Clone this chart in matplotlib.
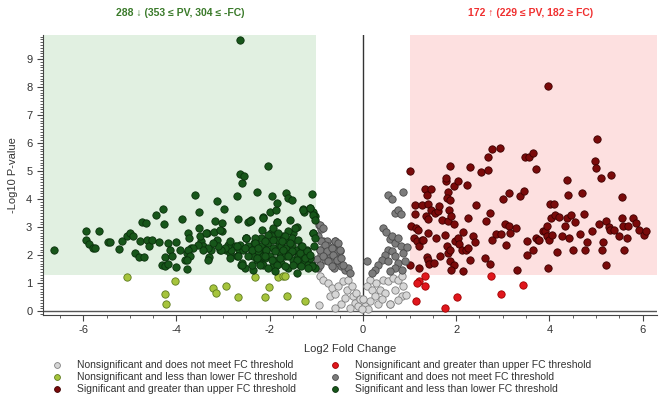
import numpy as np
import matplotlib.pyplot as plt
from matplotlib.lines import Line2D
from matplotlib.ticker import MultipleLocator

plt.rcParams['font.family'] = ['Liberation Sans', 'DejaVu Sans']
plt.rcParams['axes.unicode_minus'] = False

# significativo e abaixo do limiar inferior de FC (verde escuro)
sig_down_x = [-6.63, -5.94, -5.94, -5.87, -5.8, -5.75, -5.66, -5.47, -5.42, -5.23,
              -5.16, -5.06, -5.0, -4.94, -4.89, -4.8, -4.75, -4.66, -4.78, -4.69,
              -4.64, -4.6, -4.53, -4.44, -4.37, -4.28, -4.26, -4.32, -4.25, -4.24,
              -4.19, -4.18, -4.14, -4.09, -4.01, -4.0, -3.89, -3.93, -3.82, -3.77,
              -3.77, -3.75, -3.73, -3.68, -3.61, -3.51, -3.51, -3.48, -3.43, -3.35,
              -3.3, -3.27, -3.2, -3.18, -3.14, -3.13, -3.07, -3.03, -3.02, -2.98,
              -2.93, -2.85, -2.8, -2.7, -2.69, -2.65, -2.64, -2.59, -2.55, -2.63,
              -2.62, -2.5, -2.46, -2.41, -2.39, -2.36, -2.33, -2.28, -2.26, -2.22,
              -2.19, -2.14, -2.14, -2.1, -2.03, -1.99, -1.98, -1.96, -1.92, -1.87,
              -1.85, -1.85, -1.8, -1.77, -1.71, -1.64, -1.6, -1.53, -1.57, -1.51,
              -1.48, -1.42, -1.39, -1.32, -1.28, -1.26, -1.1, -1.14, -1.08, -1.03,
              -1.07, -1.05, -1.1, -1.03,
              -2.5, -2.46, -2.39, -2.35, -2.28, -2.25, -2.18, -2.14, -2.07, -2.03,
              -2.0, -1.93, -1.89, -1.82, -1.78, -1.75, -1.67, -1.64, -1.57, -1.53,
              -1.5, -1.42, -1.39, -1.35, -1.28, -1.25, -1.21, -1.17, -1.14, -1.1,
              -2.14, -2.39, -2.28, -1.93, -1.75, -1.6, -1.67, -1.53, -1.96, -2.18,
              -2.32, -2.57, -2.64, -2.75, -2.82, -2.89, -2.96, -3.04, -3.1, -3.21,
              -3.32, -3.43, -3.54, -3.64, -3.75, -3.71, -3.78, -3.5, -3.36, -3.07,
              -2.86, -2.71, -2.86, -3.32, -2.53, -2.6,
              -2.42, -2.14, -1.85, -1.46, -1.6, -2.17, -2.03, -1.82, -1.67, -2.5,
              -2.32, -2.1, -1.92, -1.74, -1.57, -1.39, -1.32, -2.53, -2.39, -2.25,
              -2.07, -1.89, -1.71, -1.53, -1.35, -1.21, -2.46, -2.28, -2.1, -1.96,
              -1.78, -1.6, -1.42, -1.25, -1.14, -2.6, -2.21, -2.03, -1.85, -1.67,
              -1.5, -1.32, -1.89, -1.42, -1.17, -2.71, -2.68,
              -1.28, -1.14, -1.07, -1.03, -1.07, -1.03, -1.31]
sig_down_y = [2.2, 2.87, 2.55, 2.41, 2.26, 2.26, 2.87, 2.46, 2.46, 2.22,
              2.52, 2.7, 2.79, 2.67, 2.08, 1.94, 3.18, 3.15, 2.49, 1.94,
              2.55, 2.32, 2.53, 3.42, 2.46, 3.66, 3.12, 1.63, 1.94, 1.6,
              1.7, 2.43, 2.2, 1.96, 1.58, 2.46, 3.29, 2.2, 1.84, 2.08,
              1.52, 2.79, 2.61, 2.26, 4.13, 3.54, 2.97, 2.49, 2.32, 2.79,
              1.94, 2.2, 2.83, 3.22, 3.94, 2.55, 2.2, 2.85, 3.15, 3.66,
              2.2, 2.08, 2.32, 4.1, 3.3, 2.2, 4.9, 4.57, 4.84, 9.66,
              1.63, 2.61, 3.18, 3.27, 2.08, 1.46, 2.43, 4.24, 2.08, 2.2,
              1.8, 3.36, 2.32, 1.9, 5.17, 3.54, 2.79, 4.1, 2.97, 3.62,
              3.86, 3.18, 2.38, 2.08, 2.67, 4.22, 4.04, 3.98, 3.27, 2.79,
              2.2, 3.0, 1.96, 1.84, 3.66, 3.53, 4.18, 3.68, 3.53, 3.38,
              2.79, 2.32, 1.66, 1.54,
              2.61, 2.31, 2.2, 1.96, 2.37, 2.14, 2.31, 1.96, 2.2, 2.43,
              1.96, 2.26, 1.84, 2.55, 2.08, 2.31, 1.96, 2.26, 2.08, 2.37,
              1.84, 2.2, 1.96, 1.66, 2.08, 1.78, 2.2, 1.66, 1.9, 1.6,
              1.66, 1.66, 1.84, 1.6, 1.72, 1.54, 2.55, 2.61, 2.67, 2.61,
              2.61, 2.2, 2.37, 2.31, 2.2, 2.37, 2.26, 2.2, 2.31, 2.43,
              2.26, 2.2, 2.37, 2.26, 2.2, 1.96, 1.84, 2.67, 2.79, 2.91,
              2.49, 1.96, 1.9, 1.84, 1.54, 1.72,
              3.23, 3.33, 3.18, 2.97, 2.85, 2.91, 2.73, 2.79, 2.67, 2.61,
              2.43, 2.49, 2.55, 2.49, 2.43, 2.55, 2.32, 2.26, 2.2, 2.26,
              2.2, 2.14, 2.2, 2.14, 2.08, 2.14, 1.96, 1.9, 1.96, 1.84,
              1.9, 1.96, 1.84, 1.9, 2.02, 1.66, 1.66, 1.54, 1.66, 1.6,
              1.66, 1.6, 1.42, 1.37, 1.54, 2.32, 1.96,
              3.62, 3.68, 3.44, 3.27, 2.79, 2.61, 2.32]

# nao significativo e abaixo do limiar inferior (verde claro)
ns_down_x = [-5.07, -4.03, -4.24, -4.23, -3.21, -3.15, -2.94, -2.69, -2.31, -2.1,
             -2.01, -1.82, -1.72, -1.67, -1.62, -1.24]
ns_down_y = [1.21, 1.09, 0.63, 0.24, 0.83, 0.65, 0.89, 0.51, 1.21, 0.51,
             0.86, 1.21, 1.25, 1.25, 0.53, 0.38]

# significativo e acima do limiar superior (vermelho escuro)
sig_up_x = [1.01, 1.12, 1.12, 1.03, 1.14, 1.19, 1.09, 1.17, 1.21, 1.26,
            1.21, 1.01, 1.33, 1.37, 1.47, 1.26, 1.4, 1.35, 1.4, 1.46,
            1.39, 1.29, 1.38, 1.4, 1.42, 1.53, 1.57, 1.54, 1.62, 1.64,
            1.7, 1.76, 1.8, 1.83, 1.86, 1.65, 1.78, 1.78, 1.87, 1.82,
            1.81, 1.87, 1.85, 1.83, 1.88, 1.95, 1.95, 2.03, 1.87, 1.95,
            1.9, 1.97, 2.03, 2.07, 2.14, 2.13, 2.14, 2.21, 2.24, 2.25,
            2.26, 2.3, 2.3, 2.37, 2.4, 2.42, 2.53, 2.62, 2.65, 2.69,
            2.69, 2.73, 2.73, 2.77, 2.78, 2.85, 2.94, 2.96, 3.0, 3.05,
            3.08, 3.13, 3.14, 3.15, 3.28, 3.31, 3.37, 3.46, 3.48, 3.57,
            3.64, 3.53, 3.53, 3.65, 3.71, 3.71, 3.75, 3.78, 3.86, 3.91,
            3.96, 3.96, 3.98, 4.0, 3.98, 4.01, 4.03, 4.05, 4.1, 4.12,
            4.16, 4.21, 4.28, 4.33, 4.37, 4.38, 4.41, 4.43, 4.46, 4.51,
            4.55, 4.66, 4.69, 4.74, 4.76, 4.8, 4.91, 4.98, 5.01, 5.03,
            5.07, 5.11, 5.12, 5.16, 5.22, 5.22, 5.27, 5.33, 5.31, 5.39,
            5.5, 5.55, 5.55, 5.59, 5.61, 5.67, 5.69, 5.8, 5.86, 5.93,
            6.02, 6.07]
sig_up_y = [4.99, 3.8, 3.48, 3.03, 2.97, 2.91, 2.61, 2.49, 2.32, 2.55,
            1.54, 1.63, 4.36, 4.16, 4.36, 3.8, 3.82, 3.38, 3.3, 3.6,
            2.79, 2.55, 1.94, 1.82, 1.69, 1.72, 2.61, 3.5, 3.56, 3.74,
            3.27, 2.73, 2.32, 2.08, 2.2, 1.96, 4.66, 4.75, 5.17, 4.24,
            4.04, 3.98, 3.62, 3.21, 3.38, 3.12, 4.45, 4.66, 1.8, 1.66,
            1.48, 2.49, 2.61, 2.38, 2.83, 2.17, 1.43, 2.2, 4.51, 3.33,
            2.26, 1.84, 5.13, 2.7, 2.46, 3.8, 4.96, 1.9, 3.21, 5.05,
            5.49, 3.5, 1.69, 5.78, 2.55, 2.77, 5.84, 2.77, 4.01, 3.12,
            2.35, 4.22, 3.03, 2.79, 2.97, 1.46, 4.12, 4.3, 5.49, 5.49,
            5.64, 2.49, 2.0, 2.2, 5.07, 2.61, 2.55, 2.53, 2.85, 2.85,
            3.03, 2.67, 8.04, 2.55, 1.54, 3.82, 3.33, 2.73, 3.82, 3.44,
            2.1, 3.36, 2.7, 3.03, 4.67, 3.33, 4.16, 2.61, 3.44, 2.2,
            3.17, 2.76, 4.22, 3.47, 2.2, 2.46, 2.85, 5.37, 5.11, 6.14,
            3.12, 4.77, 2.2, 2.46, 3.21, 1.66, 3.0, 4.85, 2.89, 2.91,
            2.7, 4.06, 3.33, 3.05, 2.2, 2.61, 3.03, 3.33, 3.15, 2.91,
            2.73, 2.87]

# nao significativo e acima do limiar superior (vermelho)
ns_up_x = [1.33, 1.21, 1.17, 1.33, 1.14, 1.77, 2.01, 2.75, 2.96, 3.44]
ns_up_y = [1.27, 1.07, 1.01, 0.91, 0.38, 0.1, 0.51, 1.27, 0.63, 0.95]

# significativo sem atingir o FC (cinza escuro)
sig_mid_x = [-0.94, -0.89, -0.85, -0.78, -0.74, -0.6, -0.56, -0.92, -0.89, -0.81,
             -0.96, -0.74, -0.67, -0.6, -0.53, -0.49, -0.46, -0.39, -0.32, -0.28,
             -0.63, -0.56, -0.7, -0.98,
             -0.92, -0.85, -0.96, -0.89, -0.82, -0.92, -0.78, -0.67, -0.6, -0.53,
             -0.49, -0.64, -0.85, -0.74, -0.56, -0.46, -0.92, -0.67, -0.42,
             0.08, 0.54, 0.62, 0.87, 0.69, 0.76, 0.82, 0.44, 0.49, 0.58,
             0.62, 0.69, 0.76, 0.82, 0.54, 0.62, 0.47, 0.41, 0.54, 0.69,
             0.76, 0.69, 0.33, 0.26, 0.19, 0.87, 0.9, 0.83, 0.58, 0.95]
sig_mid_y = [3.06, 2.93, 2.52, 2.52, 2.32, 2.49, 2.38, 2.2, 2.02, 1.84,
             1.54, 1.96, 1.72, 1.96, 1.78, 2.14, 1.6, 1.48, 1.54, 1.37,
             1.54, 2.14, 2.05, 1.85,
             3.09, 2.97, 2.67, 2.49, 2.37, 2.2, 2.14, 2.26, 2.49, 2.43,
             2.2, 2.02, 1.96, 1.78, 1.84, 1.9, 1.66, 1.6, 1.66,
             1.8, 4.13, 4.01, 4.25, 3.5, 3.6, 3.48, 2.97, 2.82, 2.58,
             2.67, 2.43, 2.61, 2.32, 2.2, 2.14, 2.02, 1.84, 1.78, 1.96,
             1.72, 1.54, 1.66, 1.48, 1.37, 2.08, 1.78, 1.48, 1.43, 2.3]

# nao significativo sem atingir o FC (cinza claro)
ns_mid_x = [-0.92, -0.85, -0.74, -0.67, -0.71, -0.6, -0.53, -0.42, -0.35, -0.32,
            -0.24, -0.21, -0.17, -0.14, -0.1, -0.06, -0.46, -0.6, -0.94, -0.39,
            -0.28,
            0.15, 0.08, 0.19, 0.29, 0.36, 0.44, 0.54, 0.65, 0.76, 0.83,
            0.87, 0.69, 0.47, 0.26, 0.15, 0.04, 0.1, -0.03, 0.33, 0.58,
            0.83, 0.4, 0.0, 0.92, 0.76, 0.58]
ns_mid_y = [1.25, 1.13, 1.01, 0.83, 0.54, 0.6, 0.89, 1.07, 0.77, 1.13,
            0.89, 0.54, 0.3, 0.65, 0.18, 0.42, 0.24, 0.12, 0.21, 0.48,
            0.12,
            1.13, 0.89, 0.77, 1.01, 0.77, 1.13, 1.07, 1.19, 1.13, 1.25,
            0.89, 0.77, 0.65, 0.54, 0.36, 0.18, 0.06, 0.06, 0.24, 0.24,
            0.54, 0.42, 0.42, 0.59, 0.39, 0.24]

labels = ['Nonsignificant and does not meet FC threshold',
          'Nonsignificant and less than lower FC threshold',
          'Significant and greater than upper FC threshold',
          'Nonsignificant and greater than upper FC threshold',
          'Significant and does not meet FC threshold',
          'Significant and less than lower FC threshold']

fc_lim = 1.0
pv_lim = 1.3
x_min, x_max = -6.87, 6.31
y_min, y_max = -0.13, 9.85

fig = plt.figure(figsize=(6.61, 3.95), dpi=100)
ax = fig.add_axes([0.0646, 0.203, 0.9294, 0.708])

# regioes sombreadas
ax.fill_between([x_min, -fc_lim], pv_lim, y_max, color='#e1f0e1', lw=0, zorder=0)
ax.fill_between([fc_lim, x_max], pv_lim, y_max, color='#fde0e0', lw=0, zorder=0)
ax.axhline(0, color='#555555', lw=1, zorder=1)
ax.axvline(0, color='#333333', lw=1, zorder=1)

estilos = [(ns_mid_x, ns_mid_y, '#d6d6d6', '#808080'),
           (ns_down_x, ns_down_y, '#a6c43c', '#5d7a1e'),
           (sig_up_x, sig_up_y, '#7a0a0a', '#3d0000'),
           (ns_up_x, ns_up_y, '#e0161c', '#a00000'),
           (sig_mid_x, sig_mid_y, '#7c7c7c', '#4a4a4a'),
           (sig_down_x, sig_down_y, '#17561a', '#0a300c')]
for xs, ys, fc, ec in estilos:
  ax.scatter(xs, ys, s=28, c=fc, edgecolors=ec, linewidths=0.6, zorder=3)

ax.set_xlim(x_min, x_max)
ax.set_ylim(y_min, y_max)
ax.set_xticks([-6, -4, -2, 0, 2, 4, 6])
ax.xaxis.set_minor_locator(MultipleLocator(0.5))
ax.set_yticks(range(0, 10))
ax.yaxis.set_minor_locator(MultipleLocator(0.1))
ax.tick_params(which='both', colors='#444444', labelcolor='#333333', labelsize=8)
ax.tick_params(which='major', length=4, width=0.8)
ax.tick_params(which='minor', length=2, width=0.6)
for s in ['top', 'right']:
  ax.spines[s].set_visible(False)
for s in ['left', 'bottom']:
  ax.spines[s].set_color('#444444')
ax.set_xlabel('Log2 Fold Change', fontsize=8, color='#333333', labelpad=6)
ax.set_ylabel('-Log10 P-value', fontsize=8, color='#333333', labelpad=6)

# titulos com contagens
fig.text(0.272, 0.968, '288 ↓ (353 ≤ PV, 304 ≤ -FC)', color='#3a7a2a', fontsize=7.5,
         fontweight='bold', ha='center', va='center')
fig.text(0.802, 0.968, '172 ↑ (229 ≤ PV, 182 ≥ FC)', color='#f03030', fontsize=7.5,
         fontweight='bold', ha='center', va='center')

# legenda manual em duas colunas
leg_x = [0.0858, 0.507]
leg_y = [0.076, 0.045, 0.0145]
for i, (xs, ys, fc, ec) in enumerate(estilos):
  col, row = divmod(i, 3)
  fig.add_artist(Line2D([leg_x[col]], [leg_y[row]], marker='o', ms=4.2, ls='',
                        mfc=fc, mec=ec, mew=0.6, transform=fig.transFigure))
  fig.text(leg_x[col] + 0.030, leg_y[row], labels[i], fontsize=7.5,
           color='#333333', va='center', ha='left')

fig.savefig('out.png', dpi=100)
